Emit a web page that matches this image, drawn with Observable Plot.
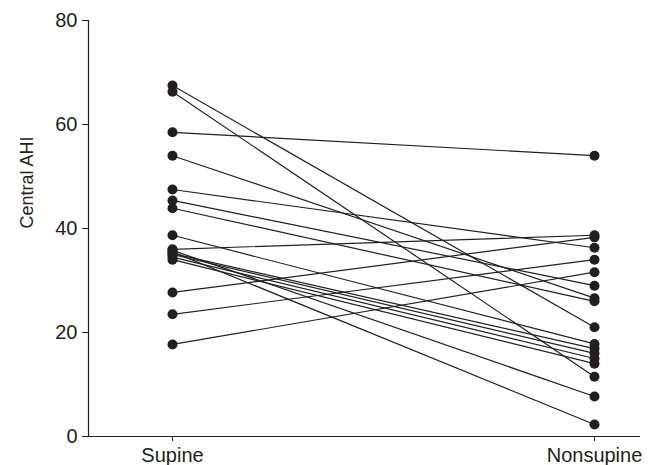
<!DOCTYPE html>
<html>
<head>
<meta charset="utf-8">
<script src="https://cdn.jsdelivr.net/npm/d3@7"></script>
<script src="https://cdn.jsdelivr.net/npm/@observablehq/plot@0.6"></script>
<style>
  html, body { margin: 0; padding: 0; background: white; }
  #chart svg { font-family: "Liberation Sans", Arial, sans-serif; }
</style>
</head>
<body>
<div id="chart"></div>
<script>
const categories = ["Supine", "Nonsupine"];
const supine    = [67.5, 66.3, 58.5, 54.0, 47.5, 45.4, 43.9, 38.7, 36.0, 35.8, 35.5, 35.2, 35.0, 34.5, 34.0, 27.7, 23.5, 17.7];
const nonsupine = [21.0, 11.5, 54.0, 26.6, 36.3, 29.0, 26.0, 17.8, 38.7, 7.7, 2.3, 16.9, 16.0, 15.0, 14.0, 38.3, 34.0, 31.6];
const yTicks = [0, 20, 40, 60, 80];
const yLabel = "Central AHI";

const rows = supine.flatMap((s, i) => [
  {id: i, pos: categories[0], v: s},
  {id: i, pos: categories[1], v: nonsupine[i]}
]);

const ink = "#231f20";

const chart = Plot.plot({
  width: 664,
  height: 465,
  marginLeft: 88,
  marginRight: 24,
  marginTop: 20,
  marginBottom: 29,
  style: {fontFamily: "Liberation Sans, Arial, sans-serif", color: ink, background: "white"},
  x: {type: "point", domain: categories, range: [172, 594], padding: 0, label: null},
  y: {domain: [0, 80], ticks: yTicks, label: null},
  marks: [
    Plot.ruleY([0], {stroke: ink, strokeWidth: 1.2}),
    Plot.frame({anchor: "left", stroke: ink, strokeWidth: 1.2}),
    Plot.line(rows, {x: "pos", y: "v", z: "id", stroke: ink, strokeWidth: 1.2}),
    Plot.dot(rows, {x: "pos", y: "v", r: 5, fill: ink, stroke: "none"}),
    Plot.axisY({ticks: yTicks, tickSize: 6, tickPadding: 5, label: null, stroke: ink, fontSize: 20}),
    Plot.axisX({tickSize: 5, tickPadding: 6, label: null, stroke: ink, fontSize: 20}),
    Plot.text([yLabel], {frameAnchor: "left", rotate: -90, dx: -61, fontSize: 18, fill: ink})
  ]
});
document.getElementById("chart").appendChild(chart);
</script>
</body>
</html>
